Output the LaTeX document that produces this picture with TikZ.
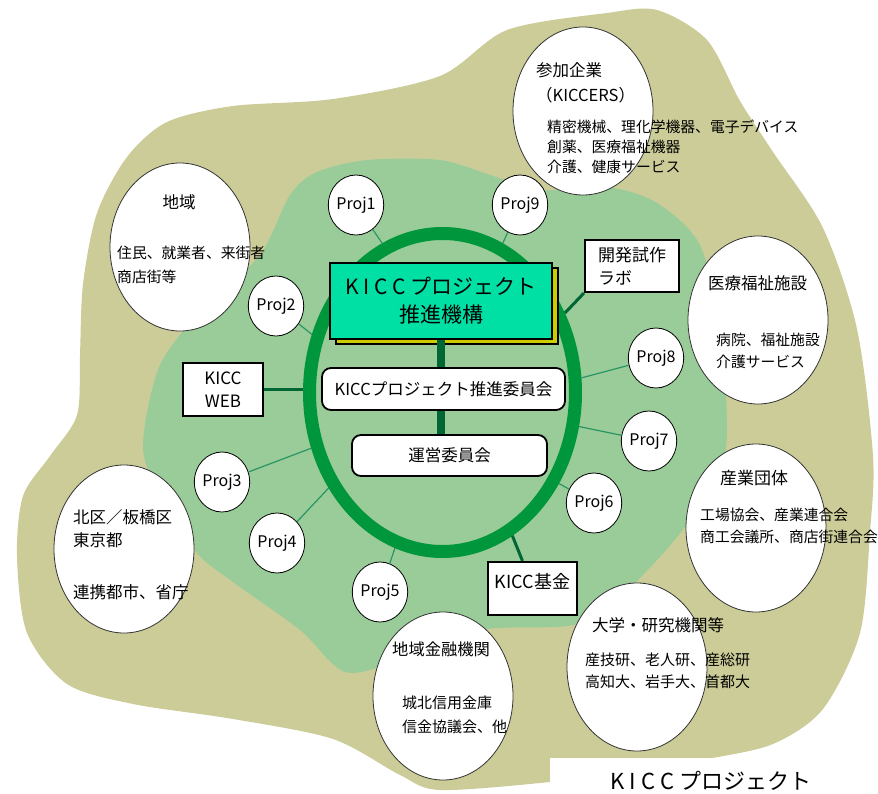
\documentclass[tikz,border=0pt]{standalone}
\usepackage{fontspec}
\setmainfont{Noto Sans CJK JP}
\usepackage{xcolor}
\usepackage{tikz}
\usetikzlibrary{positioning,shapes.geometric,shadows}

\definecolor{olivebg}{RGB}{204,204,153}
\definecolor{greenbg}{RGB}{153,204,153}
\definecolor{ringgreen}{RGB}{0,150,60}
\definecolor{darkline}{RGB}{0,102,51}
\definecolor{thinline}{RGB}{40,150,100}
\definecolor{kikoufill}{RGB}{0,224,165}
\definecolor{shadowyellow}{RGB}{204,204,0}

\tikzset{
    proj/.style={draw, ellipse, fill=white, inner sep=0pt,
        line width=0.8pt,
        minimum width=51pt, minimum height=60pt,
        font=\fontsize{16}{18}\selectfont},
    bigcirc/.style={draw=black!80, ellipse, fill=white,
        line width=0.8pt,
        minimum width=140pt, minimum height=168pt},
    sqbox/.style={draw, line width=2.2pt, fill=white,
        font=\fontsize{17}{23}\selectfont},
    roundbox/.style={draw, line width=1.8pt, rounded corners=9pt,
        fill=white, font=\fontsize{16.5}{18}\selectfont},
    txt/.style={anchor=north west, inner sep=0pt, align=left},
    projline/.style={thinline, line width=1.2pt},
    thickline/.style={darkline, line width=3pt}
}

\begin{document}
\begin{tikzpicture}[x=1pt, y=-1pt]
    \useasboundingbox (0,0) rectangle (878,794);

    % backgrounds
    \fill[olivebg] plot[smooth cycle] coordinates {
        (440,76) (333,99) (233,106) (167,122) (127,157) (97,213)
        (83,284) (80,354) (77,415) (50,456) (23,496) (17,557)
        (27,633) (67,684) (133,704) (233,719) (333,739) (400,775)
        (440,790) (550,782) (640,770) (707,759) (773,744) (823,709)
        (860,633) (870,532) (873,456) (857,329) (823,228) (773,152)
        (740,101) (707,40) (657,10) (607,13) (507,30)};
    \fill[greenbg] plot[smooth cycle] coordinates {
        (440,160) (367,160) (317,172) (290,195) (260,255) (207,304)
        (160,365) (143,446) (160,495) (197,553) (233,582) (300,630)
        (345,672) (400,660) (480,630) (573,625) (620,597) (673,542)
        (717,481) (727,430) (720,330) (700,245) (657,203) (607,187)
        (540,190) (490,175)};

    % ring
    \node[draw=ringgreen,
        line width=13pt,
        ellipse,
        minimum width=266pt,
        minimum height=318pt]
        (ring) at (442.5,392.5) {};

    % boxes
    \node[draw,
        line width=1.5pt,
        fill=kikoufill,
        minimum width=222pt,
        minimum height=76pt,
        align=center,
        font=\fontsize{21}{28}\selectfont,
        drop shadow={shadow xshift=6pt, shadow yshift=-5pt,
            fill=shadowyellow, draw=black, opacity=1}]
        (kikou) at (441,301) {K I C C プロジェクト\\推進機構};

    \node[roundbox,
        minimum width=243pt,
        minimum height=42pt]
        (suishin) at (443.5,389) {KICCプロジェクト推進委員会};

    \node[roundbox,
        minimum width=195pt,
        minimum height=41pt]
        (unei) at (449.5,455.5) {運営委員会};

    \node[sqbox,
        minimum width=94pt,
        minimum height=52pt,
        align=left]
        (lab) at (632,266) {開発試作\\ラボ};

    \node[sqbox,
        minimum width=80pt,
        minimum height=53pt,
        align=center]
        (web) at (223,389.5) {KICC\\WEB};

    \node[sqbox,
        minimum width=89pt,
        minimum height=53pt,
        text height=13pt,
        text depth=14pt,
        font=\fontsize{18}{20}\selectfont]
        (kikin) at (532.5,588.5) {KICC基金};

    \draw[thickline, line width=8pt] (kikou.south) -- (kikou.south |- suishin.north);
    \draw[thickline, line width=8pt] (kikou.south |- suishin.south) -- (kikou.south |- unei.north);
    \draw[thickline] (ring.33) -- (lab.south west);
    \draw[thickline] (web.east) -- (web.east -| ring.west);
    \draw[thickline] (ring.-64) -- (kikin.110);

    % projects
    \node[proj] (p1) at (356,205) {Proj1};
    \node[proj] (p9) at (520,205) {Proj9};
    \node[proj] (p2) at (276,306) {Proj2};
    \node[proj] (p8) at (656,358) {Proj8};
    \node[proj] (p7) at (649,441) {Proj7};
    \node[proj] (p6) at (594,503) {Proj6};
    \node[proj] (p3) at (222,482) {Proj3};
    \node[proj] (p4) at (277,543) {Proj4};
    \node[proj] (p5) at (380,592) {Proj5};

    \draw[projline] (p1) -- (ring.112);
    \draw[projline] (p9) -- (ring.68);
    \draw[projline] (p2) -- (ring.156);
    \draw[projline] (p8) -- (ring.6);
    \draw[projline] (p7) -- (ring.-14);
    \draw[projline] (p6) -- (ring.-38);
    \draw[projline] (p3) -- (ring.203);
    \draw[projline] (p4) -- (ring.220);
    \draw[projline] (p5) -- (ring.253);

    % partners
    \node[bigcirc] (kigyo) at (583,111) {};
    \node[bigcirc] (chiiki) at (180,247) {};
    \node[bigcirc] (iryo) at (758,320) {};
    \node[bigcirc] (sangyo) at (756,528) {};
    \node[bigcirc] (kitaku) at (124,549) {};
    \node[bigcirc] (kinyu) at (443,696) {};
    \node[bigcirc] (daigaku) at (637,667) {};

    \node[txt, font=\fontsize{16.5}{25}\selectfont] (kigyot) at (536,62)
        {参加企業\\（KICCERS）};
    \node[txt, font=\fontsize{14.8}{20}\selectfont] (kigyod) at (547,120)
        {精密機械、理化学機器、電子デバイス\\創薬、医療福祉機器\\介護、健康サービス};
    \node[font=\fontsize{16.5}{18}\selectfont, inner sep=0pt] (chiikit) at (179,202) {地域};
    \node[txt, font=\fontsize{14.8}{24}\selectfont] (chiikid) at (117,246)
        {住民、就業者、来街者\\商店街等};
    \node[txt, font=\fontsize{16.5}{18}\selectfont] (iryot) at (708,275) {医療福祉施設};
    \node[txt, font=\fontsize{14.8}{22}\selectfont] (iryod) at (716,333)
        {病院、福祉施設\\介護サービス};
    \node[txt, font=\fontsize{17}{18}\selectfont] (sangyot) at (720,470) {産業団体};
    \node[txt, font=\fontsize{14.8}{22}\selectfont] (sangyod) at (700,508)
        {工場協会、産業連合会\\商工会議所、商店街連合会};
    \node[txt, font=\fontsize{16.5}{23}\selectfont] (kitakut) at (73,509)
        {北区／板橋区\\東京都};
    \node[txt, font=\fontsize{16.5}{18}\selectfont] (kitakud) at (73,584) {連携都市、省庁};
    \node[txt, font=\fontsize{16.3}{18}\selectfont] (kinyut) at (392,642) {地域金融機関};
    \node[txt, font=\fontsize{15}{24}\selectfont] (kinyud) at (402,696)
        {城北信用金庫\\信金協議会、他};
    \node[txt, font=\fontsize{16.5}{18}\selectfont] (daigakut) at (592,617) {大学・研究機関等};
    \node[txt, font=\fontsize{15}{22}\selectfont] (daigakud) at (585,653)
        {産技研、老人研、産総研\\高知大、岩手大、首都大};

    % caption at the bottom edge
    \fill[white] (550,758) rectangle (878,800);
    \node[anchor=north, inner sep=0pt, font=\fontsize{22}{24}\selectfont]
        (caption) at (711,771) {K I C C プロジェクト};

\end{tikzpicture}
\end{document}
